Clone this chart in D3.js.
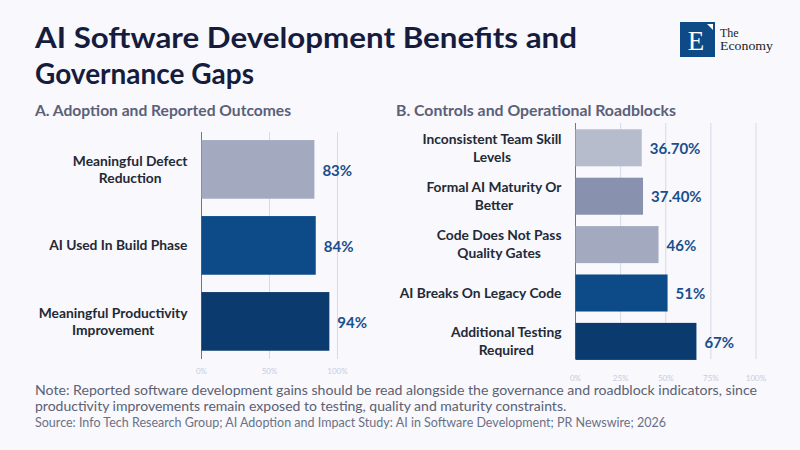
<!DOCTYPE html>
<html>
<head>
<meta charset="utf-8">
<script src="https://cdn.jsdelivr.net/npm/d3@7"></script>
<style>
  html, body { margin: 0; padding: 0; background: #f8f8fd; }
  svg { display: block; font-family: Lato, "Noto Sans", sans-serif; }
</style>
</head>
<body>
<svg id="chart" width="800" height="450"></svg>
<script>
// Panel A data
const adoptionLabels = [
  ["Meaningful Defect", "Reduction"],
  ["AI Used In Build Phase"],
  ["Meaningful Productivity", "Improvement"]
];
const adoptionValues = [83, 84, 94];
const adoptionText = ["83%", "84%", "94%"];
const adoptionColors = ["#a3aac0", "#0d4a88", "#0a3a6e"];
const adoptionTicks = [0, 50, 100];

// Panel B data
const roadblockLabels = [
  ["Inconsistent Team Skill", "Levels"],
  ["Formal AI Maturity Or", "Better"],
  ["Code Does Not Pass", "Quality Gates"],
  ["AI Breaks On Legacy Code"],
  ["Additional Testing", "Required"]
];
const roadblockValues = [36.7, 37.4, 46, 51, 67];
const roadblockText = ["36.70%", "37.40%", "46%", "51%", "67%"];
const roadblockColors = ["#b7bccc", "#8891ad", "#a3aac0", "#0d4a88", "#0a3a6e"];
const roadblockTicks = [0, 25, 50, 75, 100];

const titleLines = ["AI Software Development Benefits and", "Governance Gaps"];
const noteLines = [
  "Note: Reported software development gains should be read alongside the governance and roadblock indicators, since",
  "productivity improvements remain exposed to testing, quality and maturity constraints."
];
const sourceText = "Source: Info Tech Research Group; AI Adoption and Impact Study: AI in Software Development; PR Newswire; 2026";

const svg = d3.select("#chart");

// squeeze/stretch a text element to the width seen in the reference
function fitWidth(sel, w) {
  sel.attr("textLength", w).attr("lengthAdjust", "spacingAndGlyphs");
}

// title
svg.selectAll("text.title")
  .data(titleLines)
  .enter().append("text")
  .attr("class", "title")
  .attr("x", 35)
  .attr("y", (d, i) => 48 + i * 36)
  .attr("fill", "#161c3d")
  .attr("font-size", 28)
  .attr("font-weight", 700)
  .text(d => d)
  .each(function(d, i) { if (i === 0) fitWidth(d3.select(this), 542); });

// logo
const serif = "'Liberation Serif', 'DejaVu Serif', serif";
const logo = svg.append("g");
logo.append("rect").attr("x", 680).attr("y", 22).attr("width", 35).attr("height", 35).attr("fill", "#0e4a86");
logo.append("text").attr("x", 696).attr("y", 49.5).attr("text-anchor", "middle")
  .attr("font-family", serif).attr("font-size", 27)
  .attr("fill", "#fff").text("E");
logo.append("polygon").attr("points", "707,24 713,24 713,30").attr("fill", "#fff");
logo.append("text").attr("x", 720).attr("y", 37)
  .attr("font-family", serif).attr("font-size", 12)
  .attr("fill", "#222").text("The");
logo.append("text").attr("x", 720).attr("y", 50)
  .attr("font-family", serif).attr("font-size", 12)
  .attr("fill", "#222").text("Economy")
  .call(fitWidth, 53);

function drawPanel(opts) {
  const g = svg.append("g");

  g.append("text")
    .attr("x", opts.subX).attr("y", 116)
    .attr("fill", "#5a6078").attr("font-size", 15).attr("font-weight", 700)
    .text(opts.subtitle)
    .call(fitWidth, opts.subW);

  const x = d3.scaleLinear().domain([0, 100]).range(opts.xRange);
  const y = d3.scaleBand()
    .domain(opts.labels.map((d, i) => i))
    .range(opts.yRange)
    .paddingInner(opts.pad)
    .paddingOuter(opts.pad / 2);

  // grid
  g.selectAll("line.grid")
    .data(opts.ticks)
    .enter().append("line")
    .attr("x1", d => x(d)).attr("x2", d => x(d))
    .attr("y1", opts.gridY[0]).attr("y2", opts.gridY[1])
    .attr("stroke", d => d === 0 ? "#6d7390" : "#d5dbe8")
    .attr("stroke-width", 1);

  // tick labels
  g.selectAll("text.tick")
    .data(opts.ticks)
    .enter().append("text")
    .attr("x", d => x(d)).attr("y", opts.tickY)
    .attr("text-anchor", "middle")
    .attr("font-size", 8).attr("fill", "#c6cde0")
    .text(d => d + "%");

  // bars
  g.selectAll("rect.bar")
    .data(opts.values)
    .enter().append("rect")
    .attr("x", x(0))
    .attr("y", (d, i) => y(i))
    .attr("width", d => x(d) - x(0))
    .attr("height", y.bandwidth())
    .attr("fill", (d, i) => opts.colors[i]);

  // value labels
  g.selectAll("text.val")
    .data(opts.values)
    .enter().append("text")
    .attr("x", d => x(d) + 8)
    .attr("y", (d, i) => y(i) + y.bandwidth() / 2 + 1)
    .attr("dy", "0.35em")
    .attr("font-size", 15).attr("font-weight", 700).attr("fill", "#1a4f8c")
    .text((d, i) => opts.valueText[i]);

  // category labels: block right-aligned to the axis, lines centred within it
  opts.labels.forEach((lines, i) => {
    const cy = y(i) + y.bandwidth() / 2;
    const t = g.append("text")
      .attr("text-anchor", "middle")
      .attr("font-size", opts.labelSize).attr("font-weight", 700).attr("fill", "#222a35");
    const spans = lines.map((ln, j) => t.append("tspan")
      .attr("y", cy + (j - (lines.length - 1) / 2) * opts.lineH)
      .attr("dy", "0.35em")
      .text(ln));
    const maxW = d3.max(spans, s => s.node().getComputedTextLength());
    spans.forEach(s => s.attr("x", x(0) - 14 - maxW / 2));
  });
}

drawPanel({
  subtitle: "A. Adoption and Reported Outcomes", subX: 35, subW: 256,
  labels: adoptionLabels, values: adoptionValues, valueText: adoptionText,
  colors: adoptionColors, ticks: adoptionTicks,
  xRange: [201.5, 337.5], yRange: [131.4, 359.4], pad: 0.228,
  gridY: [132, 359], tickY: 373.5, labelSize: 13.8, lineH: 16.7
});

drawPanel({
  subtitle: "B. Controls and Operational Roadblocks", subX: 396, subW: 280,
  labels: roadblockLabels, values: roadblockValues, valueText: roadblockText,
  colors: roadblockColors, ticks: roadblockTicks,
  xRange: [575.5, 756], yRange: [123.6, 365.6], pad: 0.235,
  gridY: [123, 359], tickY: 380.5, labelSize: 13.8, lineH: 18
});

// note + source
svg.selectAll("text.note")
  .data(noteLines)
  .enter().append("text")
  .attr("x", 35).attr("y", (d, i) => 395 + i * 15.5)
  .attr("font-size", 14).attr("fill", "#5b6173")
  .text(d => d)
  .each(function(d, i) { if (i === 0) fitWidth(d3.select(this), 722); });

svg.append("text")
  .attr("x", 35).attr("y", 427)
  .attr("font-size", 12.5).attr("fill", "#6b7185")
  .text(sourceText)
  .call(fitWidth, 631);
</script>
</body>
</html>
